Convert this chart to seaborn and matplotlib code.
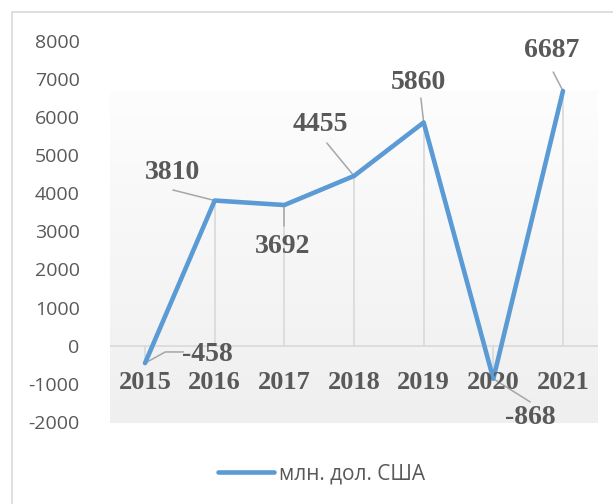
import numpy as np
import pandas as pd
import matplotlib
matplotlib.use("Agg")
import matplotlib.pyplot as plt
from matplotlib.colors import LinearSegmentedColormap
from matplotlib.lines import Line2D
import seaborn as sns

# data
years = ["2015", "2016", "2017", "2018", "2019", "2020", "2021"]
values = [-458, 3810, 3692, 4455, 5860, -868, 6687]
series_name = "млн. дол. США"
y_ticks = [-2000, -1000, 0, 1000, 2000, 3000, 4000, 5000, 6000, 7000, 8000]

# where each data label sits (in data units) and the bends of its leader line
label_pos = [(0.90, -244), (0.39, 4553), (1.98, 2591), (2.51, 5793),
             (3.92, 6921), (5.53, -1898), (5.84, 7761)]
leader_end = [[(0.29, -165), (0.55, -165)], [(0.40, 4087)], [(2.0, 3142)],
              [(2.61, 5320)], [(3.96, 6501)], [(5.53, -1478)], [(5.86, 7184)]]

BLUE = "#5b9bd5"
TEXT = "#595959"
GRID = "#d9d9d9"

sns.set_style("white")
plt.rcParams["font.family"] = ["Open Sans", "DejaVu Sans"]

df = pd.DataFrame({"idx": range(len(years)), "value": values, "series": series_name})

fig = plt.figure(figsize=(6.13, 5.04), dpi=100)
ax = fig.add_axes([0.1798, 0.1607, 0.7954, 0.7581])

# plot area wall: light vertical gradient
wall = LinearSegmentedColormap.from_list("wall", ["#efefef", "#fdfdfd"])
ax.imshow(np.linspace(0, 1, 256)[:, None], extent=(-0.5, 6.5, -2030, 6690),
          origin="lower", aspect="auto", cmap=wall, zorder=0)

ax.axhline(0, color=GRID, lw=1.2, zorder=1)
ax.vlines(df["idx"], 0, df["value"], color=GRID, lw=1.2, zorder=1)

sns.lineplot(data=df, x="idx", y="value", hue="series", palette=[BLUE],
             lw=3.3, ax=ax, zorder=3, legend=False)

# leader lines and data labels
for i, (v, (lx, ly), pts) in enumerate(zip(values, label_pos, leader_end)):
    xs = [i] + [p[0] for p in pts]
    ys = [v] + [p[1] for p in pts]
    ax.plot(xs, ys, color="#a6a6a6", lw=1.1, zorder=2)
    ax.text(lx, ly, str(v), ha="center", va="center", fontsize=20,
            fontweight="bold", family="Liberation Serif", color=TEXT, zorder=4)

# category labels sit inside the plot, just under the zero line
for i, yr in enumerate(years):
    ax.text(i, -979, yr, ha="center", va="center", fontsize=19,
            fontweight="bold", family="Liberation Serif", color=TEXT, zorder=4)

ax.set_xlim(-0.5, 6.5)
ax.set_ylim(-2030, 8000)
ax.set_xticks([])
ax.set_yticks(y_ticks)
ax.set_yticklabels([str(t) for t in y_ticks], fontsize=14, color=TEXT)
ax.tick_params(axis="y", length=0, pad=22)
ax.set_xlabel("")
ax.set_ylabel("")
for s in ax.spines.values():
    s.set_visible(False)
ax.patch.set_alpha(0)

handle = Line2D([], [], color=BLUE, lw=3.3, solid_capstyle="round")
fig.legend([handle], [series_name], loc="center", bbox_to_anchor=(0.525, 0.06),
           frameon=False, fontsize=15, handlelength=2.7, handletextpad=0.25,
           labelcolor=TEXT)

# chart border (cut off at right and bottom in the reference)
fig.add_artist(Line2D([12 / 613, 1.0], [1 - 12 / 504] * 2, color=GRID, lw=1.2))
fig.add_artist(Line2D([12 / 613] * 2, [0.0, 1 - 12 / 504], color=GRID, lw=1.2))

fig.savefig("out.png", dpi=100)
